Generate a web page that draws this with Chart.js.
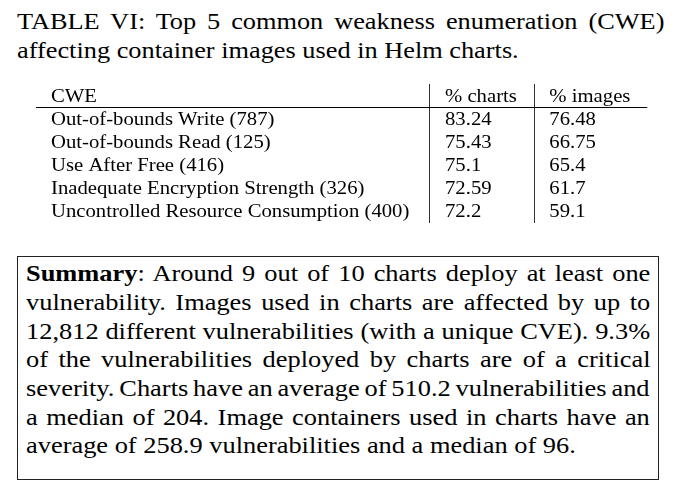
<!DOCTYPE html>
<html>
<head>
<meta charset="utf-8">
<script src="https://cdn.jsdelivr.net/npm/chart.js@4.4.1/dist/chart.umd.min.js"></script>
<style>
  html, body { margin: 0; padding: 0; background: #fff; }
  body {
    width: 677px; height: 502px; position: relative; overflow: hidden;
    font-family: 'Liberation Serif', Tinos, 'Times New Roman', Times, serif; color: #000;
  }
  .block { position: absolute; transform-origin: 0 0; }
  .line { display: block; white-space: nowrap; }
  .line span.txt { display: inline-block; white-space: nowrap; }
  #title { left: 16.7px; top: 7.2px; width: 553.8px; font-size: 22.5px; line-height: 29px; transform: scaleX(1.17); }
  #box {
    position: absolute; left: 17.3px; top: 255.5px; width: 641.7px; height: 224.5px;
    border: 1.3px solid #222; box-sizing: border-box;
  }
  #summary { left: 26px; top: 259.2px; width: 567.3px; font-size: 24px; line-height: 28.7px; transform: scaleX(1.1); }
  #tableWrap { position: absolute; left: 0; top: 75px; width: 677px; height: 160px; }
</style>
</head>
<body>
<div id="title" class="block"></div>
<div id="tableWrap"><canvas id="chart"></canvas></div>
<div id="box"></div>
<div id="summary" class="block"></div>

<script>
// caption and summary text, line by line as in the paper
const titleLines = [
  "TABLE VI: Top 5 common weakness enumeration (CWE)",
  "affecting container images used in Helm charts."
];
const summaryLines = [
  "Summary: Around 9 out of 10 charts deploy at least one",
  "vulnerability. Images used in charts are affected by up to",
  "12,812 different vulnerabilities (with a unique CVE). 9.3%",
  "of the vulnerabilities deployed by charts are of a critical",
  "severity. Charts have an average of 510.2 vulnerabilities and",
  "a median of 204. Image containers used in charts have an",
  "average of 258.9 vulnerabilities and a median of 96."
];

// table data
const columns = ["CWE", "% charts", "% images"];
const cweNames = [
  "Out-of-bounds Write (787)",
  "Out-of-bounds Read (125)",
  "Use After Free (416)",
  "Inadequate Encryption Strength (326)",
  "Uncontrolled Resource Consumption (400)"
];
const pctCharts = [83.24, 75.43, 75.1, 72.59, 72.2];
const pctImages = [76.48, 66.75, 65.4, 61.7, 59.1];

// layout (page pixels on the x scale)
const colTextX = [51, 445, 549.3];
const colRules = [429.5, 534.5];
const ruleFrom = 36, ruleTo = 647.3;
const stretch = 1.09;
const tableFont = 19;
const serifStack = "'Liberation Serif', Tinos, 'Times New Roman', Times, serif";

function addLines(container, lines, boldLead) {
  const target = parseFloat(getComputedStyle(container).width);
  lines.forEach((txt, i) => {
    const div = document.createElement("div");
    div.className = "line";
    const span = document.createElement("span");
    span.className = "txt";
    if (boldLead && i === 0 && txt.startsWith(boldLead)) {
      const b = document.createElement("b");
      b.textContent = boldLead;
      span.appendChild(b);
      span.appendChild(document.createTextNode(txt.slice(boldLead.length)));
    } else {
      span.textContent = txt;
    }
    div.appendChild(span);
    container.appendChild(div);
    // justify every line but the last one of the paragraph
    if (i < lines.length - 1) {
      const gaps = (txt.match(/ /g) || []).length;
      const natural = span.offsetWidth;
      if (gaps > 0) span.style.wordSpacing = ((target - natural) / gaps) + "px";
    }
  });
}

addLines(document.getElementById("title"), titleLines, null);
addLines(document.getElementById("summary"), summaryLines, "Summary");

const rowKeys = ["header"].concat(cweNames);
const cellValues = [cweNames, pctCharts, pctImages];

const datasets = columns.map((head, c) => ({
  label: head,
  data: rowKeys.map((key, r) => ({
    x: colTextX[c],
    y: key,
    text: r === 0 ? head : String(cellValues[c][r - 1])
  })),
  pointRadius: 0,
  pointHoverRadius: 0
}));

const tablePlugin = {
  id: "tableText",
  beforeDatasetsDraw(chart) {
    const { ctx, scales } = chart;
    const y = Math.round(scales.y.getPixelForValue(0.5)) + 0.5;
    ctx.save();
    ctx.strokeStyle = "#000";
    ctx.lineWidth = 1.1;
    ctx.beginPath();
    ctx.moveTo(scales.x.getPixelForValue(ruleFrom), y);
    ctx.lineTo(scales.x.getPixelForValue(ruleTo), y);
    ctx.stroke();
    ctx.restore();
  },
  afterDatasetsDraw(chart) {
    const ctx = chart.ctx;
    ctx.save();
    ctx.fillStyle = "#000";
    ctx.font = tableFont + "px " + serifStack;
    ctx.textAlign = "left";
    ctx.textBaseline = "alphabetic";
    chart.data.datasets.forEach((ds, di) => {
      const meta = chart.getDatasetMeta(di);
      meta.data.forEach((el, i) => {
        ctx.save();
        ctx.translate(el.x, el.y + tableFont * 0.32);
        ctx.scale(stretch, 1);
        ctx.fillText(ds.data[i].text, 0, 0);
        ctx.restore();
      });
    });
    ctx.restore();
  }
};

const ctx = document.getElementById("chart").getContext("2d");

const chart = new Chart(ctx, {
  type: "scatter",
  data: { datasets: datasets },
  options: {
    animation: false,
    responsive: true,
    maintainAspectRatio: false,
    events: [],
    layout: { padding: { top: 9, bottom: 12, left: 0, right: 0 } },
    plugins: { legend: { display: false }, tooltip: { enabled: false } },
    scales: {
      x: {
        type: "linear",
        min: 0,
        max: 677,
        ticks: { display: false },
        border: { display: false },
        grid: { drawTicks: false, color: "#333", lineWidth: 1 },
        afterBuildTicks: axis => { axis.ticks = colRules.map(v => ({ value: v })); }
      },
      y: {
        type: "category",
        labels: rowKeys,
        offset: true,
        display: false
      }
    }
  },
  plugins: [tablePlugin]
});
</script>
</body>
</html>
